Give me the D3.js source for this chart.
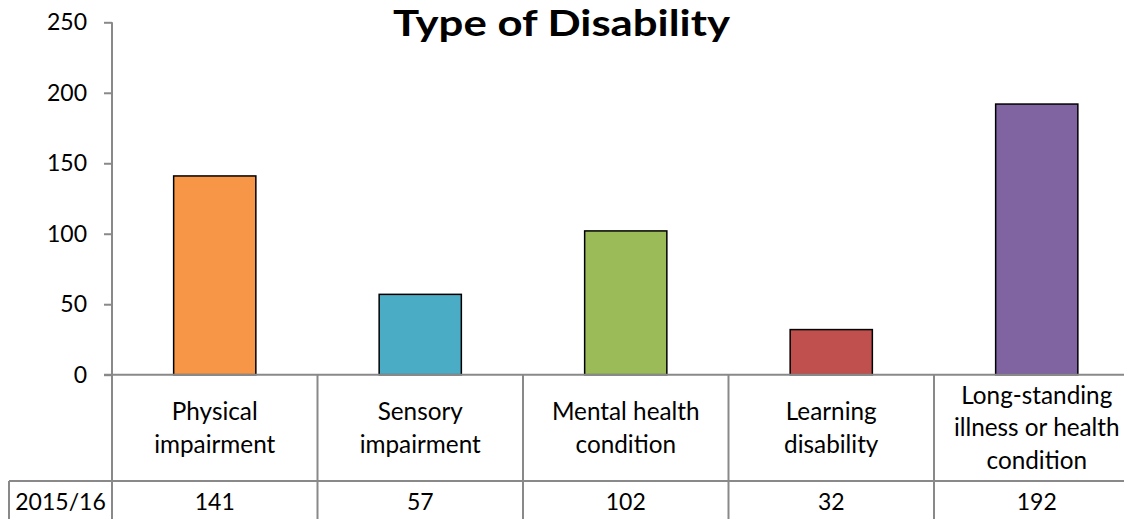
<!DOCTYPE html>
<html><head><meta charset="utf-8">
<script src="https://cdn.jsdelivr.net/npm/d3@7"></script>
<style>
html,body{margin:0;padding:0;background:#fff;overflow:hidden;}
svg{display:block;font-family:Lato,"Open Sans",sans-serif;}
</style></head>
<body>
<svg id="chart" width="1124" height="519"></svg>
<script>
const title = "Type of Disability";
const categories = ["Physical impairment","Sensory impairment","Mental health condition","Learning disability","Long-standing illness or health condition"];
const categoryLines = [["Physical","impairment"],["Sensory","impairment"],["Mental health","condition"],["Learning","disability"],["Long-standing","illness or health","condition"]];
const seriesName = "2015/16";
const values = [141,57,102,32,192];
const colors = ["#F79646","#4BACC6","#9BBB59","#C0504D","#8064A2"];
const yTicks = [0,50,100,150,200,250];

(function(){
const W = 1124, H = 519;
const plotLeft = 112, plotW = 1027.5, plotTop = 22.3, zeroY = 374.7;
const rowSplit = 481, tableLeft = 9;
const gridColor = "#898989";

const svg = d3.select("#chart");
const x = d3.scaleBand().domain(categories).range([plotLeft, plotLeft + plotW]).paddingInner(0.6).paddingOuter(0.3);
const y = d3.scaleLinear().domain([0, 250]).range([zeroY, plotTop]);
const step = x.step();

// title
svg.append("text").attr("x", 561.5).attr("y", 35.5).attr("text-anchor", "middle")
  .attr("font-size", 36).attr("font-weight", "bold").attr("fill", "#000")
  .attr("textLength", 337).attr("lengthAdjust", "spacingAndGlyphs").text(title);

// bars
svg.selectAll("rect.bar").data(values).join("rect").attr("class","bar")
  .attr("x", (d,i) => x(categories[i]))
  .attr("width", x.bandwidth())
  .attr("y", d => y(d))
  .attr("height", d => y(0) - y(d))
  .attr("fill", (d,i) => colors[i])
  .attr("stroke", "#000").attr("stroke-width", 1.5);

// y axis
const yAxis = d3.axisLeft(y).tickValues(yTicks).tickSize(8).tickPadding(17);
const gy = svg.append("g").attr("transform", `translate(${plotLeft},0)`).call(yAxis);
gy.select(".domain").remove();
gy.selectAll(".tick line").attr("stroke", gridColor).attr("stroke-width", 2);
gy.selectAll(".tick text").attr("font-size", 23).attr("fill", "#000").attr("font-family", "Lato");
svg.append("line").attr("x1", plotLeft).attr("x2", plotLeft).attr("y1", plotTop).attr("y2", H + 2)
  .attr("stroke", gridColor).attr("stroke-width", 2);

// table lines
const edges = d3.range(categories.length + 1).map(i => x(categories[0]) - x.paddingOuter() * step + i * step);
svg.append("line").attr("x1", plotLeft - 8).attr("x2", W + 20).attr("y1", zeroY).attr("y2", zeroY)
  .attr("stroke", gridColor).attr("stroke-width", 2);
svg.append("line").attr("x1", tableLeft).attr("x2", W + 20).attr("y1", rowSplit).attr("y2", rowSplit)
  .attr("stroke", gridColor).attr("stroke-width", 2);
svg.append("line").attr("x1", tableLeft).attr("x2", tableLeft).attr("y1", rowSplit).attr("y2", H + 2)
  .attr("stroke", gridColor).attr("stroke-width", 2);
svg.selectAll("line.sep").data(edges.slice(1)).join("line").attr("class","sep")
  .attr("x1", d => d).attr("x2", d => d).attr("y1", zeroY).attr("y2", H + 2)
  .attr("stroke", gridColor).attr("stroke-width", 2);

// category labels
const lh = 32.5;
const labelMid = (zeroY + rowSplit) / 2;
categories.forEach((c, i) => {
  const lines = categoryLines[i];
  const cx = x(c) + x.bandwidth() / 2;
  const t = svg.append("text").attr("text-anchor", "middle").attr("font-size", 24.3).attr("fill", "#000");
  lines.forEach((ln, j) => {
    t.append("tspan").attr("x", cx)
      .attr("y", labelMid + (j - (lines.length - 1) / 2) * lh)
      .attr("dy", "0.35em").text(ln);
  });
});

// data row
svg.append("text").attr("x", (tableLeft + plotLeft) / 2).attr("y", 502).attr("dy", "0.35em")
  .attr("text-anchor", "middle").attr("font-size", 23).attr("fill", "#000").text(seriesName);
svg.selectAll("text.val").data(values).join("text").attr("class","val")
  .attr("x", (d,i) => x(categories[i]) + x.bandwidth() / 2)
  .attr("y", 502).attr("dy", "0.35em").attr("text-anchor", "middle")
  .attr("font-size", 23).attr("fill", "#000").text(d => d);
})();
</script>
</body></html>
